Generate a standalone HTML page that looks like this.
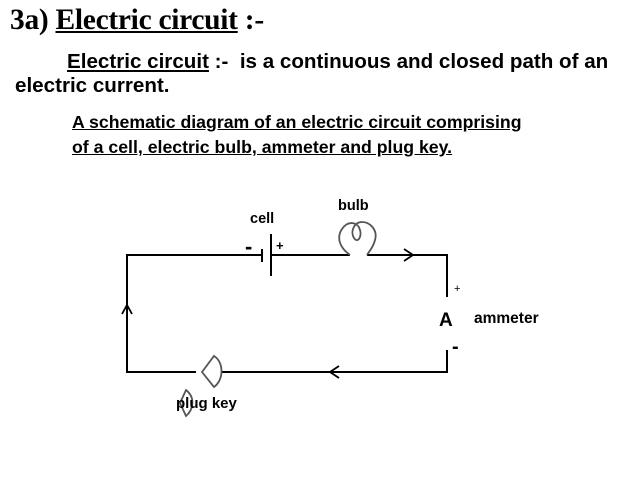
<!DOCTYPE html>
<html><head><meta charset="utf-8"><style>
body{margin:0;width:638px;height:479px;background:#fff;position:relative;overflow:hidden;font-family:"Liberation Sans",sans-serif;font-weight:bold;color:#000}
.t{position:absolute;white-space:nowrap}
u{text-decoration:underline}
</style></head><body>
<div class="t" style="left:10px;top:4px;font-family:'Liberation Serif',serif;font-size:29.5px;letter-spacing:-0.3px">3a) <u>Electric circuit</u> :-</div>
<div class="t" style="left:67px;top:50px;font-size:20.6px"><u>Electric circuit</u> :-&nbsp; is a continuous and closed path of an</div>
<div class="t" style="left:15px;top:74px;font-size:20.6px">electric current.</div>
<div class="t" style="left:72px;top:112px;font-size:17.7px"><u>A schematic diagram of an electric circuit comprising</u></div>
<div class="t" style="left:72px;top:137px;font-size:17.7px"><u>of a cell, electric bulb, ammeter and plug key.</u></div>
<svg width="638" height="479" style="position:absolute;left:0;top:0" fill="none" stroke="#000" stroke-width="2">
<path d="M262 255H127V372H196M222 372H447V350M447 297V255H367M350 255H271"/>
<path d="M262 249V262M271 234V276"/>
<path d="M404 249L413 255L404 261" stroke-width="1.8"/>
<path d="M339 366L330 372L339 378" stroke-width="1.8"/>
<path d="M122 314L127 305L132 314" stroke-width="1.8"/>
<path d="M350 255C340 248 336 238 342 229C348 220 358 222 360 230C362 236 358 244 354 238C350 232 354 222 362 222C370 222 378 230 375 240C373 248 370 250 367 255" stroke="#555" stroke-width="1.8"/>
<path d="M202 372L214 356C224 362 224 380 214 387Z" stroke="#555" stroke-width="1.8"/>
<path d="M180 403L186 390C196 398 193 410 186 416Z" stroke="#555" stroke-width="1.8"/>
</svg>
<div class="t" style="left:250px;top:211px;font-size:14.5px">cell</div>
<div class="t" style="left:338px;top:198px;font-size:14.5px">bulb</div>
<div class="t" style="left:245px;top:234px;font-size:22px">-</div>
<div class="t" style="left:276px;top:238px;font-size:13px">+</div>
<div class="t" style="left:454px;top:283px;font-size:11px;font-weight:normal">+</div>
<div class="t" style="left:439px;top:310px;font-size:19px">A</div>
<div class="t" style="left:452px;top:336px;font-size:20px">-</div>
<div class="t" style="left:474px;top:310px;font-size:15.5px">ammeter</div>
<div class="t" style="left:176px;top:395px;font-size:15px">plug key</div>
</body></html>
